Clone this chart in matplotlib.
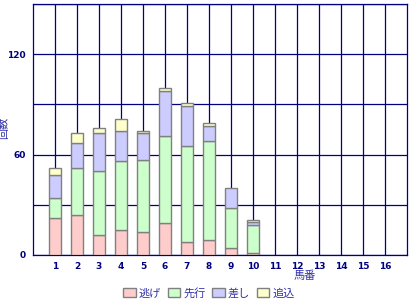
import numpy as np
import matplotlib
matplotlib.use("Agg")
import matplotlib.pyplot as plt
from matplotlib.patches import Patch

plt.rcParams['font.family'] = ['Noto Sans CJK JP', 'DejaVu Sans']

horses = np.arange(1, 17)
nige   = [22, 24, 12, 15, 14, 19, 8, 9, 4, 1, 0, 0, 0, 0, 0, 0]
senko  = [12, 28, 38, 41, 43, 52, 57, 59, 24, 17, 0, 0, 0, 0, 0, 0]
sashi  = [14, 15, 23, 18, 16, 27, 24, 9, 12, 2, 0, 0, 0, 0, 0, 0]
oikomi = [4, 6, 3, 7, 1, 2, 2, 2, 0, 1, 0, 0, 0, 0, 0, 0]
labels = ['逃げ', '先行', '差し', '追込']
colors = ['#FFCCCC', '#CCFFCC', '#CCCCFF', '#FFFFCC']
navy = '#000080'

fig = plt.figure(figsize=(4.2, 3.0), dpi=100)
ax = fig.add_axes([33/420, 45/300, 374/420, 251/300])

series = [nige, senko, sashi, oikomi]
bottom = np.zeros(len(horses))
for vals, c in zip(series, colors):
    vals = np.array(vals, dtype=float)
    m = vals > 0
    ax.bar(horses[m], vals[m], 0.56, bottom=bottom[m], color=c,
           edgecolor='#808080', linewidth=1.0, zorder=3)
    bottom += vals

ax.set_xlim(0, 17)
ax.set_ylim(0, 150)
ax.set_xticks(horses)
ax.set_xticklabels([str(h) for h in horses])
ax.set_yticks([0, 30, 60, 90, 120, 150])
ax.set_yticklabels(['0', '', '60', '', '120', ''])
ax.grid(True, color=navy, linewidth=0.9, zorder=0)
for s in ax.spines.values():
    s.set_color(navy)
    s.set_linewidth(0.9)
ax.tick_params(length=0, colors=navy, labelsize=6.5, pad=5)
for t in ax.get_xticklabels() + ax.get_yticklabels():
    t.set_fontfamily('DejaVu Sans')
    t.set_fontweight('bold')

fig.text(305/420, 1 - 276/300, '馬番', color='#3333AA', fontsize=8,
         ha='center', va='center')
fig.text(4/420, 1 - 128/300, '回数', color='#3333AA', fontsize=8,
         ha='center', va='center', rotation=90)

handles = [Patch(facecolor=c, edgecolor='#808080', label=l) for c, l in zip(colors, labels)]
leg = fig.legend(handles=handles, loc='center', bbox_to_anchor=(209/420, 1 - 293/300),
                 ncol=4, frameon=False, fontsize=8, handlelength=1.1, handleheight=0.8,
                 handletextpad=0.3, columnspacing=0.6, borderpad=0)
for t in leg.get_texts():
    t.set_color('#3333AA')

fig.savefig('out.png', dpi=100)
